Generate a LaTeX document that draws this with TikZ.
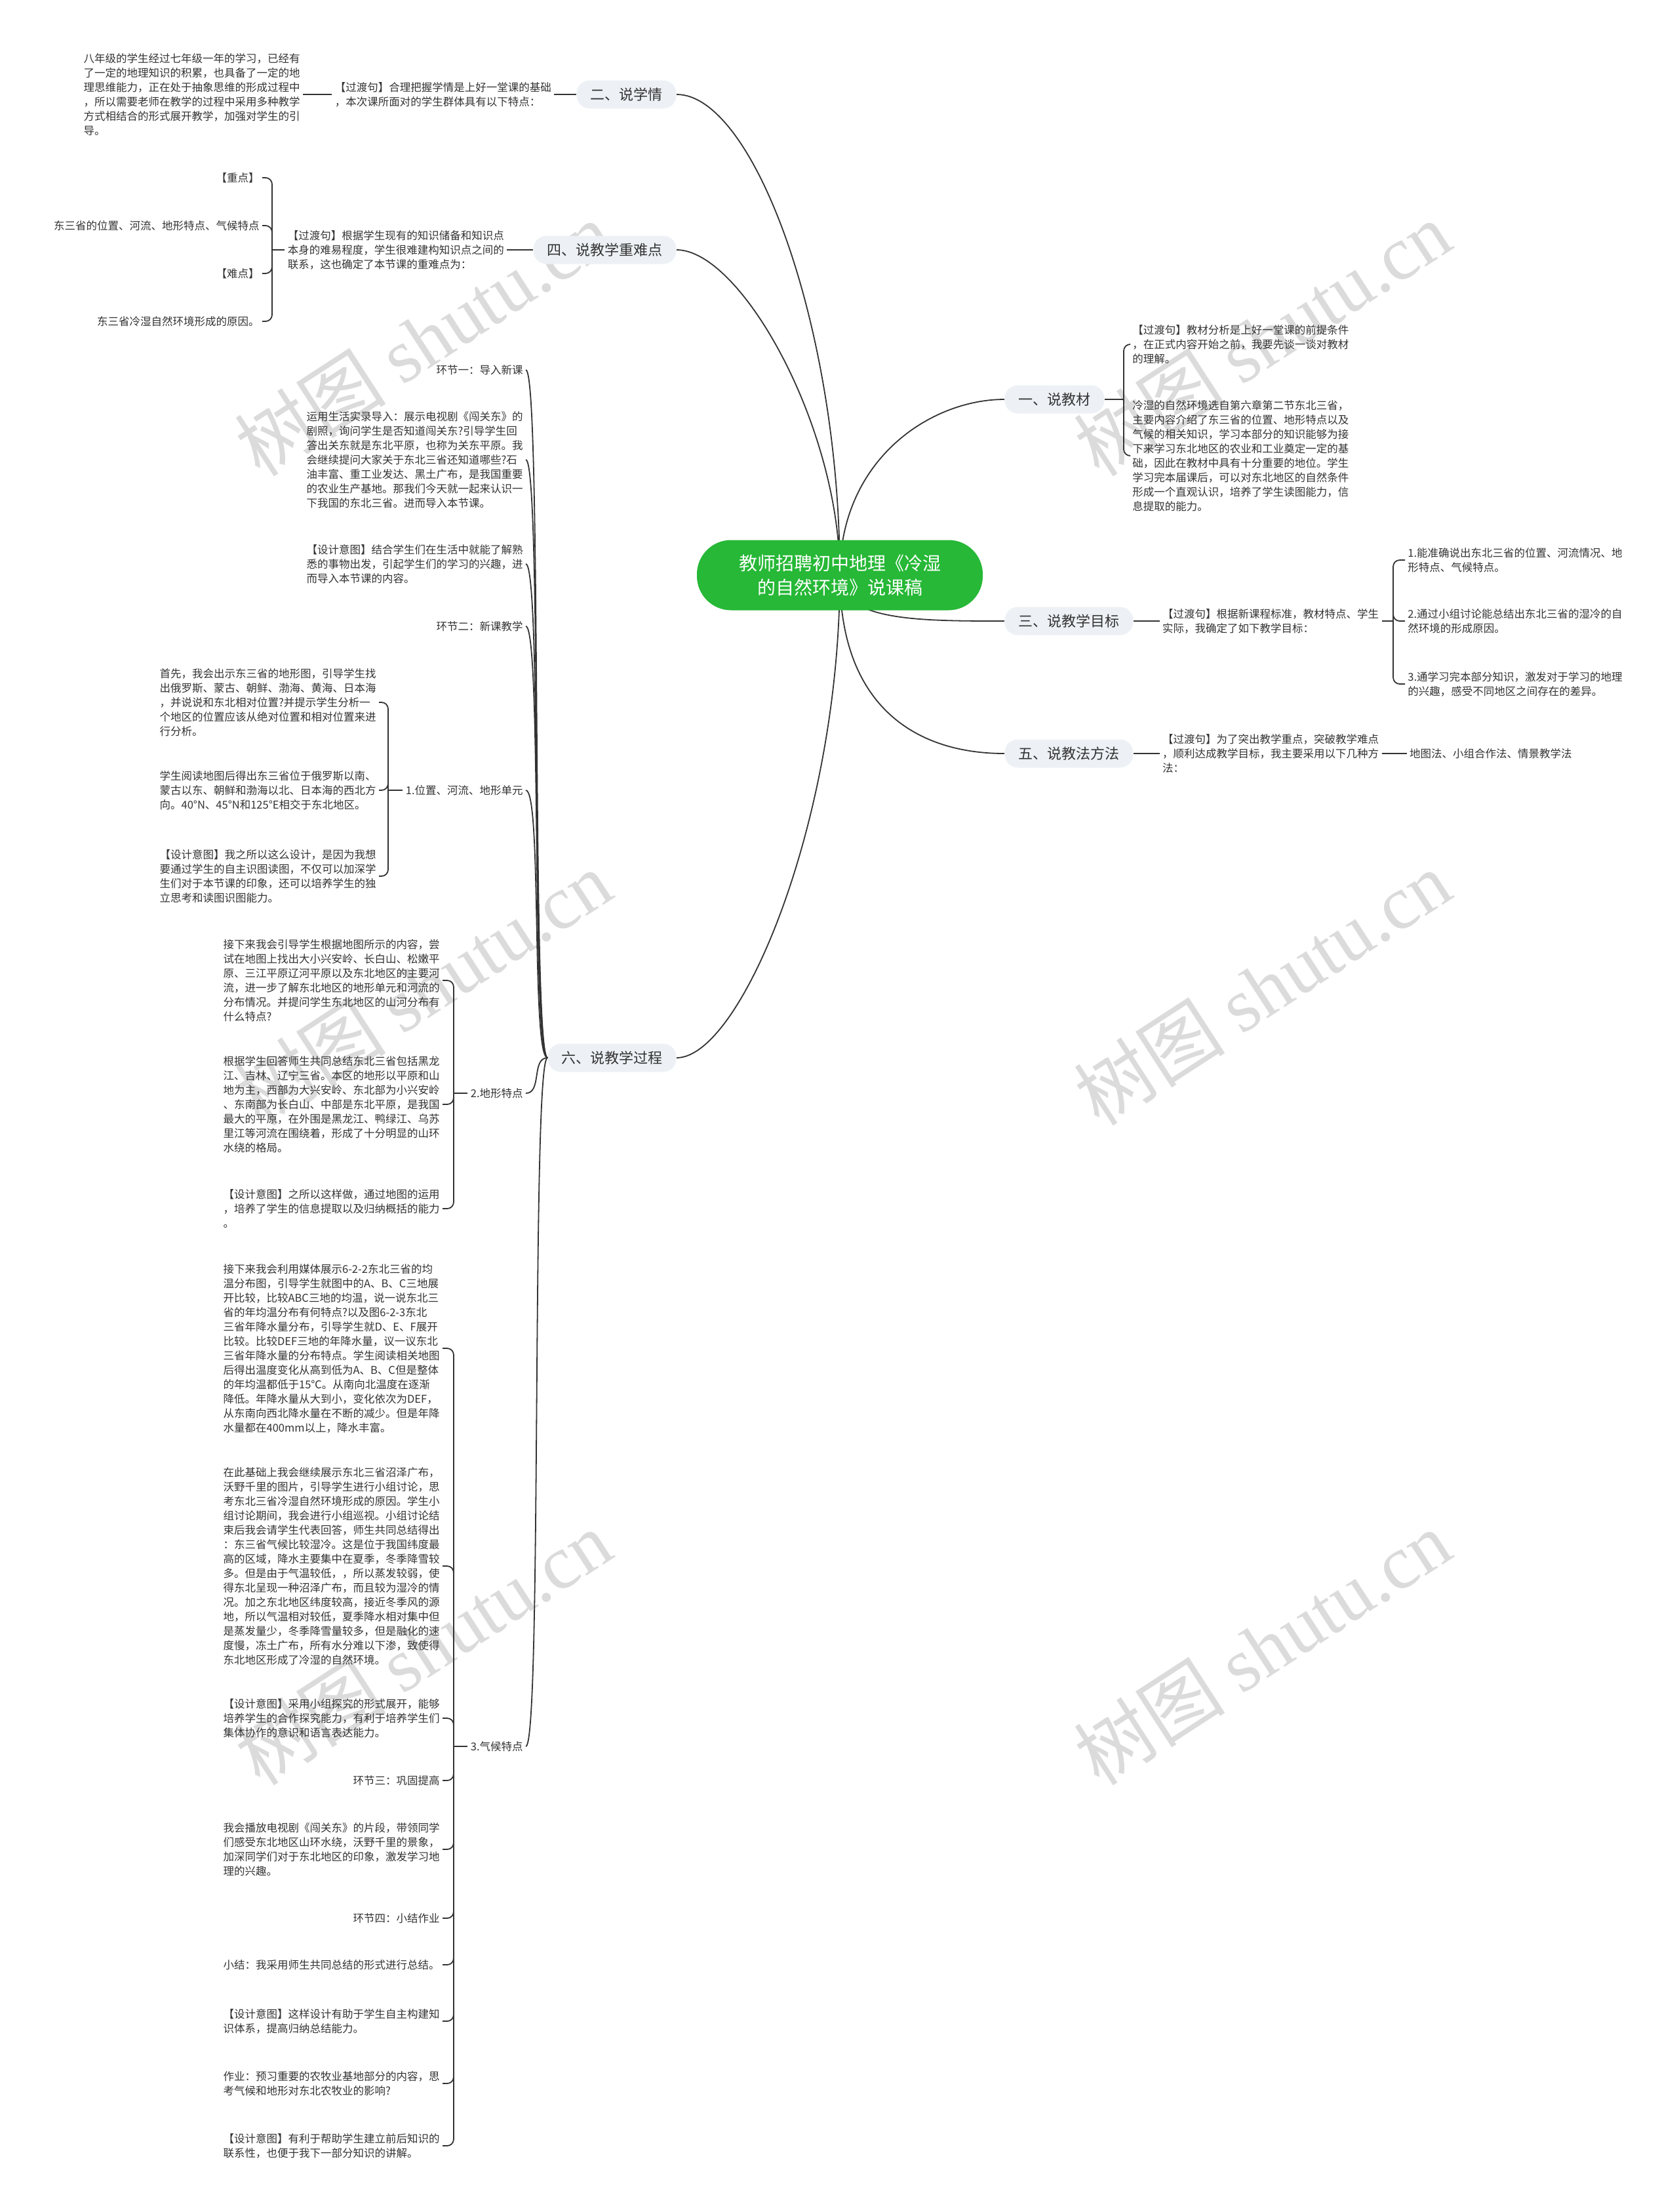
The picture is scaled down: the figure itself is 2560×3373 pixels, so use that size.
\documentclass[tikz,border=0pt]{standalone}
\usepackage{fontspec}
\setmainfont{Noto Sans CJK SC}
\newfontfamily\wmfont{Liberation Serif}
\usetikzlibrary{positioning,backgrounds}
\definecolor{rootgreen}{RGB}{38,184,54}
\definecolor{topicgray}{RGB}{237,241,245}
\definecolor{inkgray}{RGB}{51,51,51}

\begin{document}
\begin{tikzpicture}[x=0.5pt,y=-0.5pt,
  root/.style={fill=rootgreen,text=white,rounded corners=26pt,minimum width=218pt,minimum height=53.5pt,align=center,font=\fontsize{14}{18.5}\selectfont},
  topic/.style={fill=topicgray,text=inkgray,rounded corners=10pt,inner xsep=10.5pt,minimum height=21.5pt,font=\fontsize{11}{13}\selectfont},
  txt/.style={text=inkgray,inner sep=2pt,align=left,font=\fontsize{8.25}{11}\selectfont},
  link/.style={draw=inkgray,line width=0.9pt},
  brace/.style={link,rounded corners=5pt},
  wmark/.style={rotate=33,text=black!14,font=\fontsize{58}{58}\selectfont}]

\begin{pgfonlayer}{background}
  \fill[white] (0,0) rectangle (2560,3373);
  \foreach \wy in {516,1506,2512}
    \foreach \wx in {645,1925}
      \node[wmark] at (\wx,\wy) {树图 {\wmfont shutu.cn}};
\end{pgfonlayer}

\node[root] (root) at (1281,877) {教师招聘初中地理《冷湿\\的自然环境》说课稿};

\node[topic,anchor=east] (s2) at (1032,144) {二、说学情};
\node[topic,anchor=east] (s4) at (1032,381) {四、说教学重难点};
\node[topic,anchor=east] (s6) at (1032,1613) {六、说教学过程};
\node[topic,anchor=west] (s1) at (1532,609) {一、说教材};
\node[topic,anchor=west] (s3) at (1532,947) {三、说教学目标};
\node[topic,anchor=west] (s5) at (1532,1149) {五、说教法方法};

\begin{pgfonlayer}{background}
  \draw[link] (root.center) .. controls +(0,-377) and +(118,0) .. (s2.east);
  \draw[link] (root.center) .. controls +(0,-227) and +(98,0) .. (s4.east);
  \draw[link] (root.center) .. controls +(0,373) and +(98,0) .. (s6.east);
  \draw[link] (root.center) .. controls +(0,-177) and +(-112,0) .. (s1.west);
  \draw[link] (root.center) .. controls +(0,70) and +(-132,0) .. (s3.west);
  \draw[link] (root.center) .. controls +(0,203) and +(-132,0) .. (s5.west);
\end{pgfonlayer}

\node[txt,left=17pt of s2] (s2a) {【过渡句】合理把握学情是上好一堂课的基础\\，本次课所面对的学生群体具有以下特点：};
\node[txt,anchor=east] (s2b) at (462,144) {八年级的学生经过七年级一年的学习，已经有\\了一定的地理知识的积累，也具备了一定的地\\理思维能力，正在处于抽象思维的形成过程中\\，所以需要老师在教学的过程中采用多种教学\\方式相结合的形式展开教学，加强对学生的引\\导。};
\draw[link] (s2.west) -- (s2a.east);
\draw[link] (s2a.west) -- (s2b.east);

\node[txt,left=20pt of s4] (s4a) {【过渡句】根据学生现有的知识储备和知识点\\本身的难易程度，学生很难建构知识点之间的\\联系，这也确定了本节课的重难点为：};
\node[txt,anchor=east] (k1) at (400,271) {【重点】};
\node[txt,anchor=east] (k2) at (400,344) {东三省的位置、河流、地形特点、气候特点};
\node[txt,anchor=east] (k3) at (400,417) {【难点】};
\node[txt,anchor=east] (k4) at (400,490) {东三省冷湿自然环境形成的原因。};
\coordinate (s4B) at (415,381);
\draw[link] (s4.west) -- (s4a.east);
\draw[link] (s4a.west) -- (s4B);
\foreach \k in {k1,k2,k3,k4}
  \draw[brace] (s4B) |- (\k.east);

\node[txt,anchor=east] (h1) at (802,564) {环节一：导入新课};
\node[txt,anchor=east] (h1a) at (802,701) {运用生活实录导入：展示电视剧《闯关东》的\\剧照，询问学生是否知道闯关东?引导学生回\\答出关东就是东北平原，也称为关东平原。我\\会继续提问大家关于东北三省还知道哪些?石\\油丰富、重工业发达、黑土广布，是我国重要\\的农业生产基地。那我们今天就一起来认识一\\下我国的东北三省。进而导入本节课。};
\node[txt,anchor=east] (h1b) at (802,860) {【设计意图】结合学生们在生活中就能了解熟\\悉的事物出发，引起学生们的学习的兴趣，进\\而导入本节课的内容。};
\node[txt,anchor=east] (h2) at (802,955) {环节二：新课教学};
\node[txt,anchor=east] (p1) at (802,1205) {1.位置、河流、地形单元};
\node[txt,anchor=east] (p2) at (802,1667) {2.地形特点};
\node[txt,anchor=east] (p3) at (802,2663) {3.气候特点};
\foreach \h in {h1,h1a,h1b,h2,p1,p2,p3}
  \draw[link] (s6.west) .. controls +(-25,0) and +(25,0) .. (\h.east);

\node[txt,anchor=east] (p1a) at (578,1071) {首先，我会出示东三省的地形图，引导学生找\\出俄罗斯、蒙古、朝鲜、渤海、黄海、日本海\\，并说说和东北相对位置?并提示学生分析一\\个地区的位置应该从绝对位置和相对位置来进\\行分析。};
\node[txt,anchor=east] (p1b) at (578,1205) {学生阅读地图后得出东三省位于俄罗斯以南、\\蒙古以东、朝鲜和渤海以北、日本海的西北方\\向。40°N、45°N和125°E相交于东北地区。};
\node[txt,anchor=east] (p1c) at (578,1336) {【设计意图】我之所以这么设计，是因为我想\\要通过学生的自主识图读图，不仅可以加深学\\生们对于本节课的印象，还可以培养学生的独\\立思考和读图识图能力。};
\coordinate (p1B) at (592,1205);
\draw[link] (p1.west) -- (p1B);
\foreach \k in {p1a,p1b,p1c}
  \draw[brace] (p1B) |- (\k.east);

\node[txt,anchor=east] (p2a) at (675,1495) {接下来我会引导学生根据地图所示的内容，尝\\试在地图上找出大小兴安岭、长白山、松嫩平\\原、三江平原辽河平原以及东北地区的主要河\\流，进一步了解东北地区的地形单元和河流的\\分布情况。并提问学生东北地区的山河分布有\\什么特点?};
\node[txt,anchor=east] (p2b) at (675,1684) {根据学生回答师生共同总结东北三省包括黑龙\\江、吉林、辽宁三省。本区的地形以平原和山\\地为主，西部为大兴安岭、东北部为小兴安岭\\、东南部为长白山、中部是东北平原，是我国\\最大的平原，在外围是黑龙江、鸭绿江、乌苏\\里江等河流在围绕着，形成了十分明显的山环\\水绕的格局。};
\node[txt,anchor=east] (p2c) at (675,1843) {【设计意图】之所以这样做，通过地图的运用\\，培养了学生的信息提取以及归纳概括的能力\\。};
\coordinate (p2B) at (692,1667);
\draw[link] (p2.west) -- (p2B);
\foreach \k in {p2a,p2b,p2c}
  \draw[brace] (p2B) |- (\k.east);

\node[txt,anchor=east] (p3a) at (675,2056) {接下来我会利用媒体展示6-2-2东北三省的均\\温分布图，引导学生就图中的A、B、C三地展\\开比较，比较ABC三地的均温，说一说东北三\\省的年均温分布有何特点?以及图6-2-3东北\\三省年降水量分布，引导学生就D、E、F展开\\比较。比较DEF三地的年降水量，议一议东北\\三省年降水量的分布特点。学生阅读相关地图\\后得出温度变化从高到低为A、B、C但是整体\\的年均温都低于15℃。从南向北温度在逐渐\\降低。年降水量从大到小，变化依次为DEF，\\从东南向西北降水量在不断的减少。但是年降\\水量都在400mm以上，降水丰富。};
\node[txt,anchor=east] (p3b) at (675,2388) {在此基础上我会继续展示东北三省沼泽广布，\\沃野千里的图片，引导学生进行小组讨论，思\\考东北三省冷湿自然环境形成的原因。学生小\\组讨论期间，我会进行小组巡视。小组讨论结\\束后我会请学生代表回答，师生共同总结得出\\：东三省气候比较湿冷。这是位于我国纬度最\\高的区域，降水主要集中在夏季，冬季降雪较\\多。但是由于气温较低，，所以蒸发较弱，使\\得东北呈现一种沼泽广布，而且较为湿冷的情\\况。加之东北地区纬度较高，接近冬季风的源\\地，所以气温相对较低，夏季降水相对集中但\\是蒸发量少，冬季降雪量较多，但是融化的速\\度慢，冻土广布，所有水分难以下渗，致使得\\东北地区形成了冷湿的自然环境。};
\node[txt,anchor=east] (p3c) at (675,2620) {【设计意图】采用小组探究的形式展开，能够\\培养学生的合作探究能力，有利于培养学生们\\集体协作的意识和语言表达能力。};
\node[txt,anchor=east] (p3d) at (675,2715) {环节三：巩固提高};
\node[txt,anchor=east] (p3e) at (675,2820) {我会播放电视剧《闯关东》的片段，带领同学\\们感受东北地区山环水绕，沃野千里的景象，\\加深同学们对于东北地区的印象，激发学习地\\理的兴趣。};
\node[txt,anchor=east] (p3f) at (675,2925) {环节四：小结作业};
\node[txt,anchor=east] (p3g) at (675,2996) {小结：我采用师生共同总结的形式进行总结。};
\node[txt,anchor=east] (p3h) at (675,3082) {【设计意图】这样设计有助于学生自主构建知\\识体系，提高归纳总结能力。};
\node[txt,anchor=east] (p3i) at (675,3177) {作业：预习重要的农牧业基地部分的内容，思\\考气候和地形对东北农牧业的影响?};
\node[txt,anchor=east] (p3j) at (675,3272) {【设计意图】有利于帮助学生建立前后知识的\\联系性，也便于我下一部分知识的讲解。};
\coordinate (p3B) at (692,2663);
\draw[link] (p3.west) -- (p3B);
\foreach \k in {p3a,p3b,p3c,p3d,p3e,p3f,p3g,p3h,p3i,p3j}
  \draw[brace] (p3B) |- (\k.east);

\node[txt,anchor=west] (s1a) at (1723,525) {【过渡句】教材分析是上好一堂课的前提条件\\，在正式内容开始之前，我要先谈一谈对教材\\的理解。};
\node[txt,anchor=west] (s1b) at (1723,695) {冷湿的自然环境选自第六章第二节东北三省，\\主要内容介绍了东三省的位置、地形特点以及\\气候的相关知识，学习本部分的知识能够为接\\下来学习东北地区的农业和工业奠定一定的基\\础，因此在教材中具有十分重要的地位。学生\\学习完本届课后，可以对东北地区的自然条件\\形成一个直观认识，培养了学生读图能力，信\\息提取的能力。};
\coordinate (s1B) at (1714,609);
\draw[link] (s1.east) -- (s1B);
\foreach \k in {s1a,s1b}
  \draw[brace] (s1B) |- (\k.west);

\node[txt,right=20pt of s3] (s3a) {【过渡句】根据新课程标准，教材特点、学生\\实际，我确定了如下教学目标：};
\node[txt,anchor=west] (g1) at (2143,854) {1.能准确说出东北三省的位置、河流情况、地\\形特点、气候特点。};
\node[txt,anchor=west] (g2) at (2143,947) {2.通过小组讨论能总结出东北三省的湿冷的自\\然环境的形成原因。};
\node[txt,anchor=west] (g3) at (2143,1043) {3.通学习完本部分知识，激发对于学习的地理\\的兴趣，感受不同地区之间存在的差异。};
\coordinate (s3B) at (2125,947);
\draw[link] (s3.east) -- (s3a.west);
\draw[link] (s3a.east) -- (s3B);
\foreach \k in {g1,g2,g3}
  \draw[brace] (s3B) |- (\k.west);

\node[txt,right=20pt of s5] (s5a) {【过渡句】为了突出教学重点，突破教学难点\\，顺利达成教学目标，我主要采用以下几种方\\法：};
\node[txt,right=19pt of s5a] (s5b) {地图法、小组合作法、情景教学法};
\draw[link] (s5.east) -- (s5a.west);
\draw[link] (s5a.east) -- (s5b.west);
\end{tikzpicture}
\end{document}
